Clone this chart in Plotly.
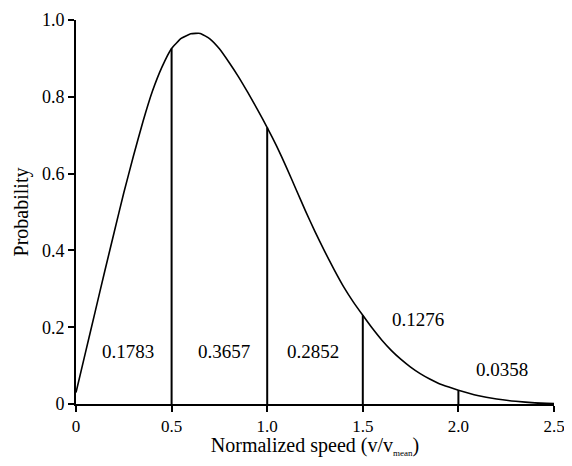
import plotly.graph_objects as go

speed = [0.0, 0.05, 0.1, 0.15, 0.2, 0.25, 0.3, 0.35, 0.4, 0.45, 0.5, 0.55, 0.6, 0.65, 0.7,
         0.75, 0.8, 0.85, 0.9, 0.95, 1.0, 1.05, 1.1, 1.15, 1.2, 1.25, 1.3, 1.35, 1.4, 1.45,
         1.5, 1.55, 1.6, 1.65, 1.7, 1.75, 1.8, 1.85, 1.9, 1.95, 2.0, 2.1, 2.2, 2.3, 2.4, 2.5]
prob = [0.03, 0.135, 0.24, 0.345, 0.448, 0.55, 0.645, 0.735, 0.815, 0.878, 0.926, 0.952, 0.964, 0.965, 0.951,
        0.925, 0.89, 0.852, 0.81, 0.766, 0.72, 0.671, 0.617, 0.56, 0.503, 0.449, 0.398, 0.35, 0.305, 0.266,
        0.231, 0.197, 0.166, 0.139, 0.116, 0.096, 0.079, 0.065, 0.053, 0.044, 0.036, 0.022, 0.013, 0.007, 0.003, 0.001]

# Partition lines
bin_edges = [0.5, 1.0, 1.5, 2.0]
bin_heights = [0.926, 0.72, 0.231, 0.036]

# Bin probability labels
bin_labels = ["0.1783", "0.3657", "0.2852", "0.1276", "0.0358"]
label_x = [0.273, 0.775, 1.238, 1.79, 2.23]
label_y = [0.136, 0.136, 0.136, 0.22, 0.091]

x_tickvals = [0, 0.5, 1.0, 1.5, 2.0, 2.5]
x_ticktext = ["0", "0.5", "1.0", "1.5", "2.0", "2.5"]
y_tickvals = [0, 0.2, 0.4, 0.6, 0.8, 1.0]
y_ticktext = ["0", "0.2", "0.4", "0.6", "0.8", "1.0"]

FONT = "Liberation Serif"

fig = go.Figure()
fig.add_trace(go.Scatter(x=speed, y=prob, mode="lines",
                         line=dict(color="black", width=1.6, shape="spline", smoothing=0.4),
                         hoverinfo="skip", showlegend=False, cliponaxis=False))

vx, vy = [], []
for e, h in zip(bin_edges, bin_heights):
    vx += [e, e, None]
    vy += [0, h, None]
fig.add_trace(go.Scatter(x=vx, y=vy, mode="lines", line=dict(color="black", width=2),
                         hoverinfo="skip", showlegend=False))

for lx, ly, lt in zip(label_x, label_y, bin_labels):
    fig.add_annotation(x=lx, y=ly, text=lt, showarrow=False,
                       font=dict(family=FONT, size=19, color="black"))

fig.update_layout(
    width=564, height=450,
    margin=dict(l=68, r=18, t=12, b=54, autoexpand=False),
    paper_bgcolor="white", plot_bgcolor="white",
    font=dict(family=FONT, size=18, color="black"),
    xaxis=dict(range=[0, 2.5], tickvals=x_tickvals, ticktext=x_ticktext, automargin=False,
               showgrid=False, zeroline=False, showline=True, linecolor="black", linewidth=2,
               ticks="outside", ticklen=6, tickwidth=2, tickcolor="black",
               tickfont=dict(family=FONT, size=17),
               title=dict(text="Normalized speed (v/v<sub><span style='font-size:9px'>mean</span></sub>)",
                          font=dict(family=FONT, size=20), standoff=5)),
    yaxis=dict(range=[0, 1.0], tickvals=y_tickvals, ticktext=y_ticktext, automargin=False,
               showgrid=False, zeroline=False, showline=True, linecolor="black", linewidth=2,
               ticks="outside", ticklen=6, tickwidth=2, tickcolor="black",
               tickfont=dict(family=FONT, size=18),
               title=dict(text="Probability", font=dict(family=FONT, size=20), standoff=8)),
)

fig.write_html("out.html")
